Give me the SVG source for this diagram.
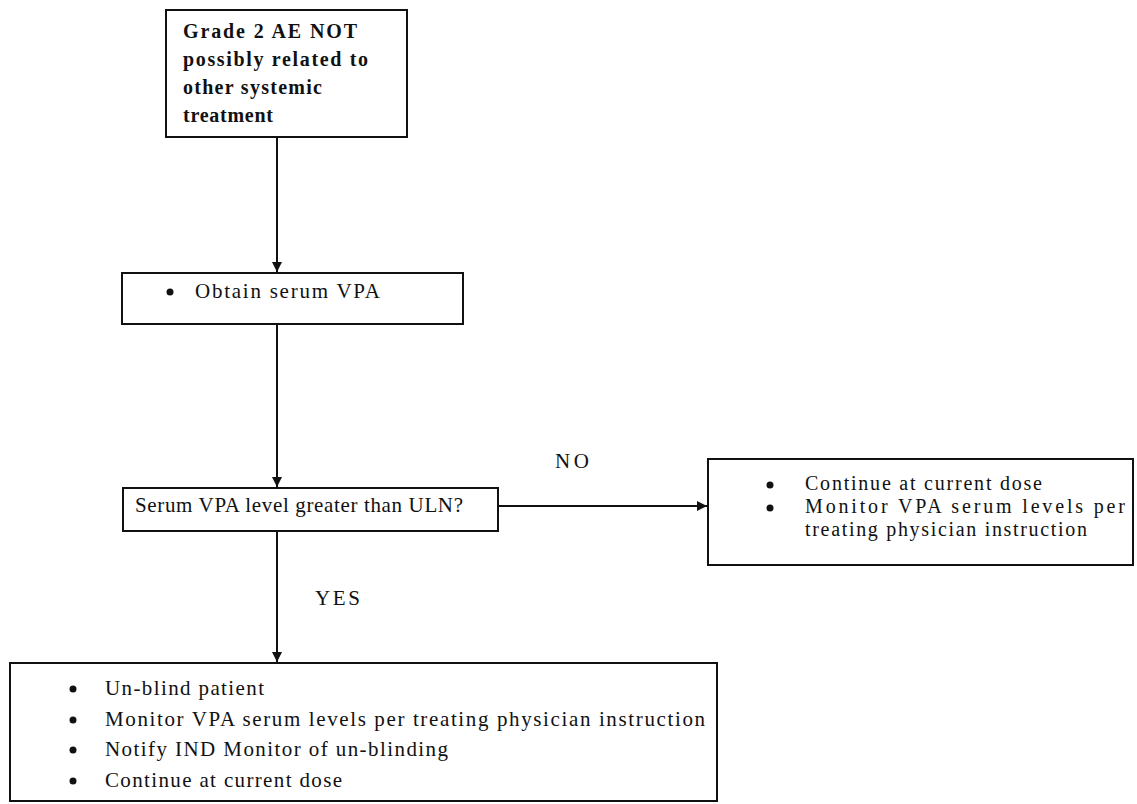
<svg xmlns="http://www.w3.org/2000/svg" width="1137" height="804" viewBox="0 0 1137 804">
  <style>
    .box { fill: #ffffff; stroke: #111111; stroke-width: 2; }
    .txt { font-family: "Liberation Serif", "Times New Roman", serif; font-size: 21px; fill: #111111; }
    .small { font-size: 20px; }
    .bold { font-weight: bold; font-size: 20px; }
    .wire { fill: none; stroke: #111111; stroke-width: 2; }
    .dot { fill: #111111; }
  </style>
  <defs>
    <marker id="head" viewBox="0 0 10 10" refX="10" refY="5" markerWidth="10" markerHeight="10" markerUnits="userSpaceOnUse" orient="auto">
      <path d="M0,0 L10,5 L0,10 z" fill="#111111"/>
    </marker>
  </defs>

  <rect width="1137" height="804" fill="#ffffff"/>

  <!-- connectors -->
  <g id="connectors">
    <line class="wire" x1="277" y1="138" x2="277" y2="272" marker-end="url(#head)"/>
    <line class="wire" x1="277" y1="324" x2="277" y2="487" marker-end="url(#head)"/>
    <line class="wire" x1="498" y1="506" x2="707" y2="506" marker-end="url(#head)"/>
    <line class="wire" x1="277" y1="531" x2="277" y2="662" marker-end="url(#head)"/>
    <text class="txt" x="555" y="468" textLength="34" lengthAdjust="spacing">NO</text>
    <text class="txt" x="315" y="605" textLength="45" lengthAdjust="spacing">YES</text>
  </g>

  <!-- start condition -->
  <g id="node-start">
    <rect class="box" x="166" y="10" width="241" height="127"/>
    <text class="txt bold" x="183" y="38" textLength="174" lengthAdjust="spacing">Grade 2 AE NOT</text>
    <text class="txt bold" x="183" y="66" textLength="185" lengthAdjust="spacing">possibly related to</text>
    <text class="txt bold" x="183" y="94" textLength="139" lengthAdjust="spacing">other systemic</text>
    <text class="txt bold" x="183" y="122" textLength="90" lengthAdjust="spacing">treatment</text>
  </g>

  <!-- obtain serum level -->
  <g id="node-obtain">
    <rect class="box" x="122" y="273" width="341" height="51"/>
    <circle class="dot" cx="170" cy="292" r="3.5"/>
    <text class="txt" x="195" y="298" textLength="185" lengthAdjust="spacing">Obtain serum VPA</text>
  </g>

  <!-- decision -->
  <g id="node-decision">
    <rect class="box" x="123" y="488" width="375" height="43"/>
    <text class="txt" x="135" y="512" textLength="328" lengthAdjust="spacing">Serum VPA level greater than ULN?</text>
  </g>

  <!-- NO branch -->
  <g id="node-no">
    <rect class="box" x="708" y="459" width="425" height="106"/>
    <circle class="dot" cx="770" cy="485" r="3.5"/>
    <circle class="dot" cx="770" cy="508" r="3.5"/>
    <text class="txt small" x="805" y="490" textLength="237" lengthAdjust="spacing">Continue at current dose</text>
    <text class="txt small" x="805" y="513" textLength="320" lengthAdjust="spacing">Monitor VPA serum levels per</text>
    <text class="txt small" x="805" y="536" textLength="282" lengthAdjust="spacing">treating physician instruction</text>
  </g>

  <!-- YES branch -->
  <g id="node-yes">
    <rect class="box" x="10" y="663" width="707" height="138"/>
    <circle class="dot" cx="73" cy="689" r="3.5"/>
    <circle class="dot" cx="73" cy="720" r="3.5"/>
    <circle class="dot" cx="73" cy="750" r="3.5"/>
    <circle class="dot" cx="73" cy="781" r="3.5"/>
    <text class="txt" x="105" y="695" textLength="159" lengthAdjust="spacing">Un-blind patient</text>
    <text class="txt" x="105" y="726" textLength="600" lengthAdjust="spacing">Monitor VPA serum levels per treating physician instruction</text>
    <text class="txt" x="105" y="756" textLength="343" lengthAdjust="spacing">Notify IND Monitor of un-blinding</text>
    <text class="txt" x="105" y="787" textLength="237" lengthAdjust="spacing">Continue at current dose</text>
  </g>
</svg>
